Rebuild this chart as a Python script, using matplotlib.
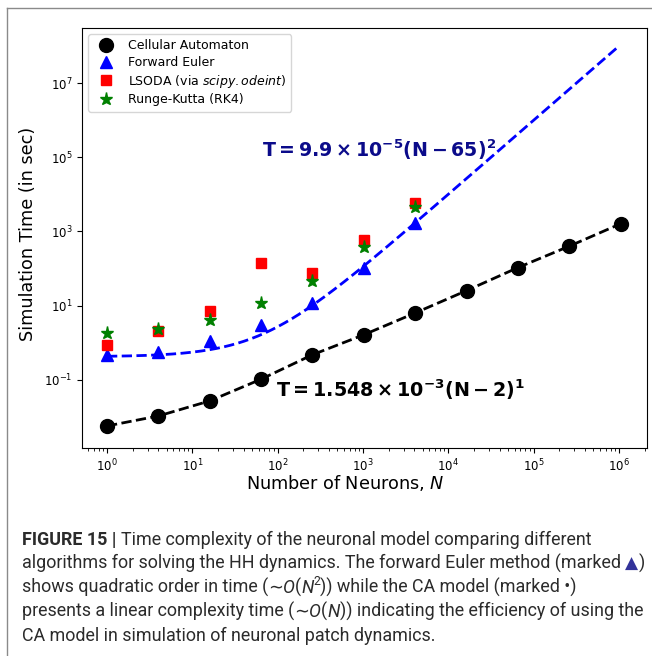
import matplotlib
matplotlib.use('Agg')
import matplotlib.pyplot as plt
import numpy as np
from matplotlib.lines import Line2D
from matplotlib.ticker import NullLocator, FixedLocator, LogLocator

# ---------------- data ----------------
neurons = [1, 4, 16, 64, 256, 1024, 4096, 16384, 65536, 262144, 1048576]
ca_time = [0.0057, 0.0106, 0.027, 0.104, 0.474, 1.64, 6.35, 25.4, 106, 401, 1615]

neurons_hh = [1, 4, 16, 64, 256, 1024, 4096]
euler_time = [0.454, 0.58, 1.13, 3.06, 11.8, 104, 1645]
lsoda_time = [0.845, 2.11, 7.0, 142.6, 76.5, 571, 5970]
rk4_time = [1.83, 2.39, 4.18, 11.8, 47.4, 376, 4650]

# quadratic fit drawn for forward Euler (curve as drawn in figure)
fit_coef = 9.9e-5
fit_shift = 65
fit_power = 2

x_ticks = [1e0, 1e1, 1e2, 1e3, 1e4, 1e5, 1e6]
y_ticks = [1e-1, 1e1, 1e3, 1e5, 1e7]

series_labels = ['Cellular Automaton', 'Forward Euler',
                 r'LSODA (via $\it{scipy.odeint}$)', 'Runge-Kutta (RK4)']
fit_label_euler = r'$\mathbf{T = 9.9 \times 10^{-5}(N - 65)^2}$'
fit_label_ca = r'$\mathbf{T = 1.548 \times 10^{-3}(N - 2)^1}$'

W, H = 652, 656
fig = plt.figure(figsize=(W / 100, H / 100), dpi=100)
fig.patch.set_facecolor('white')

ax = fig.add_axes([82 / W, 1 - 448 / H, (647 - 82) / W, (448 - 28) / H])
ax.set_xscale('log')
ax.set_yscale('log')

n_fit = np.logspace(0, 6, 300)
ax.plot(n_fit, fit_coef * (n_fit + fit_shift) ** fit_power, '--', color='blue', lw=2, zorder=2)
ax.plot(neurons, ca_time, '--', color='black', lw=2, zorder=2)

ax.plot(neurons, ca_time, 'o', color='black', ms=10, ls='none', label=series_labels[0], zorder=3)
ax.plot(neurons_hh, euler_time, '^', color='blue', ms=8, ls='none', label=series_labels[1], zorder=4)
ax.plot(neurons_hh, lsoda_time, 's', color='red', ms=7.5, ls='none', label=series_labels[2], zorder=5)
ax.plot(neurons_hh, rk4_time, '*', color='green', ms=9.5, ls='none', label=series_labels[3], zorder=6)

ax.set_xlim(10 ** -0.293, 10 ** 6.33)
ax.set_ylim(10 ** -2.838, 10 ** 8.486)
ax.xaxis.set_major_locator(FixedLocator(x_ticks))
ax.xaxis.set_minor_locator(LogLocator(base=10, subs=np.arange(2, 10), numticks=20))
ax.yaxis.set_major_locator(FixedLocator(y_ticks))
ax.yaxis.set_minor_locator(NullLocator())
ax.tick_params(axis='both', which='major', labelsize=8.5)

ax.set_xlabel(r'Number of Neurons, $N$', fontsize=12.7)
ax.xaxis.set_label_coords((345 - 82) / 565, (448 - 473) / 420)
ax.set_ylabel('Simulation Time (in sec)', fontsize=12.7)
ax.yaxis.set_label_coords((37 - 82) / 565, (448 - 234) / 420)

ax.legend(loc='upper left', fontsize=9, numpoints=1, labelspacing=0.3)

ax.text(0.5257, 0.7095, fit_label_euler, transform=ax.transAxes, ha='center', va='center',
        fontsize=13.7, color='#0b0b8a')
ax.text(0.5646, 0.138, fit_label_ca, transform=ax.transAxes, ha='center', va='center',
        fontsize=13.8, color='black')

# outer frame lines
fig.add_artist(Line2D([7 / W, 7 / W], [0, 1 - 8 / H], transform=fig.transFigure, color='#8a8a8a', lw=1))
fig.add_artist(Line2D([7 / W, 1], [1 - 8 / H, 1 - 8 / H], transform=fig.transFigure, color='#8a8a8a', lw=1))

# ---------------- caption ----------------
meas_fig = plt.figure(figsize=(W / 100, H / 100), dpi=100)
renderer = meas_fig.canvas.get_renderer()
CAP = '#2b2b2b'
BASE = dict(family=['Roboto', 'DejaVu Sans'], weight='normal', color=CAP)


def props(kind, size):
    p = dict(BASE)
    p['fontsize'] = size
    if kind == 'b':
        p['weight'] = 'bold'
    elif kind == 'i':
        p['style'] = 'italic'
    elif kind == 'dv':
        p['family'] = ['DejaVu Sans']
    elif kind == 'tri':
        p['family'] = ['DejaVu Sans']
        p['color'] = '#33339a'
        p['fontsize'] = size * 0.95
    elif kind == 'sup':
        p['fontsize'] = size * 0.68
    return p


def width(s, p):
    t1 = meas_fig.text(0.5, 0.5, '|' + s + '|', **p)
    w1 = t1.get_window_extent(renderer).width
    t2 = meas_fig.text(0.5, 0.5, '||', **p)
    w2 = t2.get_window_extent(renderer).width
    t1.remove()
    t2.remove()
    return w1 - w2


lines = [
    [("FIGURE 15 | ", 'b'), ("Time complexity of the neuronal model comparing different", 'n')],
    [("algorithms for solving the HH dynamics. The forward Euler method (marked ", 'n'), ("\u25B2", 'tri'), (")", 'n')],
    [("shows quadratic order in time (", 'n'), ("\u223C", 'dv'), ("O", 'i'), ("(", 'n'), ("N", 'i'), ("2", 'sup'),
     (")) while the CA model (marked \u2022)", 'n')],
    [("presents a linear complexity time (", 'n'), ("\u223C", 'dv'), ("O", 'i'), ("(", 'n'), ("N", 'i'),
     (")) indicating the efficiency of using the", 'n')],
    [("CA model in simulation of neuronal patch dynamics.", 'n')],
]

# fit font size so that line 2 spans the measured width
ref_size = 10.0
w_ref = sum(width(s, props(k, ref_size)) for s, k in lines[1])
cap_size = ref_size * 623.0 / w_ref

baselines = [545, 569, 593, 617, 641]
for segs, yb in zip(lines, baselines):
    x = 22.0
    for s, k in segs:
        p = props(k, cap_size)
        dy = 0.0
        if k == 'sup':
            dy = cap_size * 1.39 * 0.42
        fig.text(x / W, 1 - (yb - dy) / H, s, va='baseline', ha='left', **p)
        x += width(s, p)

plt.close(meas_fig)
fig.savefig('out.png', dpi=100, facecolor='white')
